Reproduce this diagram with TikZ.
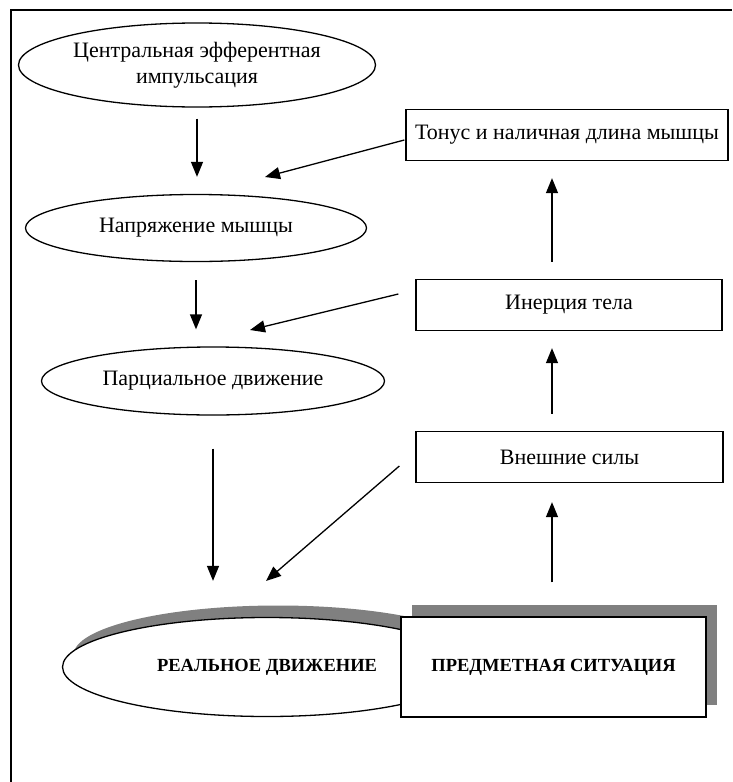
\documentclass[tikz,border=0pt]{standalone}
\usepackage{fontspec}
\setmainfont{Liberation Serif}
\usetikzlibrary{shapes.geometric,arrows.meta}
\begin{document}
\begin{tikzpicture}[x=1pt,y=1pt,
  txt/.style={font=\fontsize{22}{26.5}\selectfont, align=center, inner sep=0pt},
  oval/.style={ellipse, draw, line width=1.3pt, txt, fill=white},
  rbox/.style={rectangle, draw, line width=1.3pt, txt, fill=white},
  bigtxt/.style={font=\fontsize{18.5}{22}\selectfont\bfseries},
  shadowfill/.style={fill=black!50, draw=none},
  arr/.style={line width=1.3pt, -{Triangle[length=15pt,width=12pt]}}]
\useasboundingbox (0,0) rectangle (732,-782);
% frame
\draw[line width=1.6pt] (11,-782) -- (11,-10) -- (732,-10);

% shadows
\node[ellipse, shadowfill, minimum width=409pt, minimum height=99pt, inner sep=0pt] (e4s) at (278,-655) {};
\node[rectangle, shadowfill, minimum width=305pt, minimum height=100pt, inner sep=0pt] (b4s) at (564.5,-655) {};

% left column
\node[oval, minimum width=357pt, minimum height=84pt] (e1) at (197,-65) {Центральная эфферентная\\импульсация};
\node[oval, minimum width=341pt, minimum height=67pt] (e2) at (196,-228) {Напряжение мышцы};
\node[oval, minimum width=343pt, minimum height=68pt] (e3) at (213,-381) {Парциальное движение};
\node[oval, minimum width=409pt, minimum height=99pt, bigtxt] (e4) at (267,-667) {РЕАЛЬНОЕ ДВИЖЕНИЕ};

% right column
\node[rbox, minimum width=322pt, minimum height=51pt] (b1) at (567,-135) {Тонус и наличная длина мышцы};
\node[rbox, minimum width=306pt, minimum height=51pt] (b2) at (569,-305) {Инерция тела};
\node[rbox, minimum width=307pt, minimum height=51pt] (b3) at (569.5,-457) {Внешние силы};
\node[rbox, minimum width=305pt, minimum height=100pt, bigtxt] (b4) at (553.5,-667) {ПРЕДМЕТНАЯ СИТУАЦИЯ};

% tips of diagonal arrows
\coordinate (t1) at (265,-177);
\coordinate (t2) at (250,-330);
\coordinate (t3) at (266,-581);

% vertical arrows, left column
\draw[arr, shorten <=11pt, shorten >=17pt] (e1.south) -- (e1.south |- e2.north);
\draw[arr, shorten <=18pt, shorten >=17pt] (e2.south) -- (e2.south |- e3.north);
\draw[arr, shorten <=33pt, shorten >=36pt] (e3.south) -- (e3.south |- e4.north);

% vertical arrows, right column
\draw[arr, shorten <=17pt, shorten >=17pt] ([xshift=-17pt]b2.north) -- ([xshift=-17pt]b2.north |- b1.south);
\draw[arr, shorten <=17pt, shorten >=17pt] ([xshift=-17.5pt]b3.north) -- ([xshift=-17.5pt]b3.north |- b2.south);
\draw[arr, shorten <=34pt, shorten >=19pt] ([xshift=-1.5pt]b4.north) -- ([xshift=-1.5pt]b4.north |- b3.south);

% diagonal arrows
\draw[arr] ([xshift=-1pt,yshift=-5pt]b1.west) -- (t1);
\draw[arr] ([xshift=-17pt,yshift=11pt]b2.west) -- (t2);
\draw[arr] ([xshift=-16pt,yshift=-9pt]b3.west) -- (t3);
\end{tikzpicture}
\end{document}
